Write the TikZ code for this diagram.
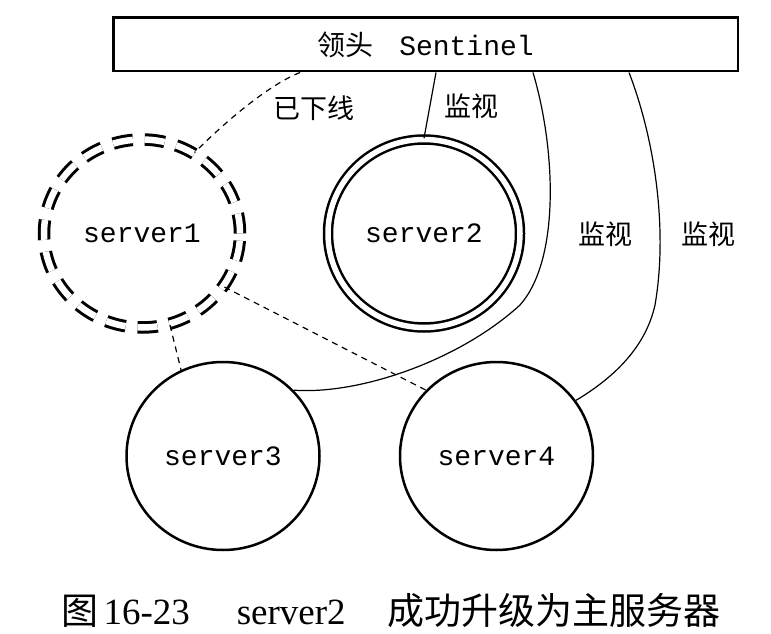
\documentclass[tikz,border=0pt]{standalone}
\usepackage{fontspec}
\setmainfont{Liberation Serif}
\setmonofont{Liberation Mono}
\newfontfamily\cjk{Noto Sans CJK SC}
\usetikzlibrary{shapes.geometric, positioning}
\tikzstyle{leader} = [rectangle, draw=black, line width=2.5pt, minimum width=624.5pt, minimum height=53.5pt, inner sep=0pt, font=\ttfamily\fontsize{28}{32}\selectfont]
\tikzstyle{server} = [ellipse, draw=black, line width=2.5pt, minimum width=193pt, minimum height=188pt, inner sep=0pt, font=\ttfamily\fontsize{28}{32}\selectfont]
\tikzstyle{master} = [server, double, double distance=5.5pt, minimum width=192pt]
\tikzstyle{downserver} = [server, line width=3pt, double, double distance=6.5pt, dash pattern=on 20pt off 12pt, minimum width=196pt]
\tikzstyle{note} = [font=\cjk\fontsize{27}{30}\selectfont]
\tikzstyle{link} = [line width=1.2pt]
\tikzstyle{downlink} = [line width=1.2pt, dash pattern=on 6pt off 5pt]

\begin{document}
\begin{tikzpicture}[x=1pt, y=1pt, node distance=189pt]
\useasboundingbox (0,0) rectangle (771,633);

\node (sentinel) [leader] at (425.5,588.5) {{\cjk 领头}\hspace{26pt}Sentinel};
\node (server2) [master, below of=sentinel, xshift=-1.5pt] {server2};
\node (server1) [downserver, node distance=282pt, left of=server2] {server1};
\node (server3) [server, node distance=222.5pt, below of=server1, xshift=81pt] {server3};
\node (server4) [server, node distance=273.5pt, right of=server3] {server4};

\node (offlabel) [note] at (314,525) {已下线};
\node (watch2) [note] at (471,527) {监视};
\node (watch3) [note] at (605,399) {监视};
\node (watch4) [note] at (708,399) {监视};

\draw [downlink] ([xshift=-125.5pt]sentinel.south) .. controls +(-35,-14) and +(25,25) .. (server1.57);
\draw [downlink] (server1.-33) -- (server4.137);
\draw [downlink] (server1.-73) -- (server3.116);

\draw [link] ([xshift=10.5pt]sentinel.south) -- (server2.north);
\draw [link] ([xshift=107.5pt]sentinel.south) .. controls (556,483) and (560,373) .. (520,328) .. controls (460,273) and (360,238) .. (server3.43);
\draw [link] ([xshift=203.5pt]sentinel.south) .. controls (655,493) and (668,403) .. (655,328) .. controls (645,283) and (610,253) .. (server4.35);

\node (caption) [anchor=base west, font=\fontsize{37}{40}\selectfont] at (58,9) {{\cjk 图}\hspace{5pt}16-23\hspace{47pt}server2\hspace{42pt}{\cjk 成功升级为主服务器}};

\end{tikzpicture}
\end{document}
